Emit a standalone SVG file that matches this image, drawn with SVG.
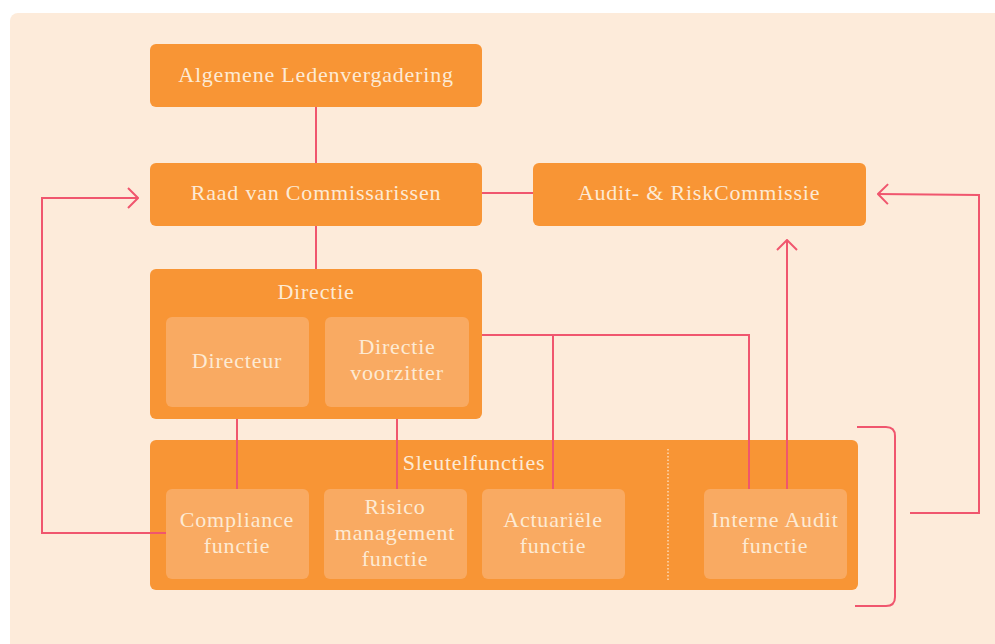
<svg xmlns="http://www.w3.org/2000/svg" width="995" height="644" viewBox="0 0 995 644">
<defs>
<style>
.box{fill:#F89535;}
.sub{fill:#F9AA62;}
.t{font-family:"Liberation Serif","DejaVu Serif",serif;font-size:22px;letter-spacing:0.8px;fill:#FDEAD4;text-anchor:middle;}
.c{fill:none;stroke:#F0566E;stroke-width:2;}
</style>
<marker id="arr" viewBox="0 0 12 22" refX="11" refY="11" markerWidth="12" markerHeight="22" markerUnits="userSpaceOnUse" orient="auto">
<path d="M1,1 L11,11 L1,21" fill="none" stroke="#F0566E" stroke-width="2"/>
</marker>
</defs>
<rect x="0" y="0" width="995" height="644" fill="#FFFFFF"/>
<rect x="10" y="13" width="1000" height="650" rx="8" fill="#FDEBDA"/>

<g id="alv">
<rect class="box" x="150" y="44" width="332" height="63" rx="6"/>
<text class="t" x="316" y="82">Algemene Ledenvergadering</text>
</g>
<g id="rvc">
<rect class="box" x="150" y="163" width="332" height="63" rx="6"/>
<text class="t" x="316" y="200">Raad van Commissarissen</text>
</g>
<g id="arc">
<rect class="box" x="533" y="163" width="333" height="63" rx="6"/>
<text class="t" x="699" y="200">Audit- &amp; RiskCommissie</text>
</g>
<g id="directie">
<rect class="box" x="150" y="269" width="332" height="150" rx="6"/>
<text class="t" x="316" y="299">Directie</text>
</g>
<g id="sleutelfuncties">
<rect class="box" x="150" y="440" width="708" height="150" rx="6"/>
<text class="t" x="474" y="470">Sleutelfuncties</text>
<line x1="668" y1="449" x2="668" y2="580" stroke="#FDD9B5" stroke-width="1.5" stroke-dasharray="1.5,2"/>
</g>

<g id="connectors">
<line class="c" x1="316" y1="107" x2="316" y2="163"/>
<line class="c" x1="316" y1="226" x2="316" y2="269"/>
<line class="c" x1="482" y1="193" x2="533" y2="193"/>
<polyline class="c" points="482,335 749,335 749,489"/>
<line class="c" x1="553" y1="335" x2="553" y2="489"/>
<line class="c" x1="237" y1="419" x2="237" y2="489"/>
<line class="c" x1="397" y1="419" x2="397" y2="489"/>
<polyline class="c" points="166,533 42,533 42,198 138,198" marker-end="url(#arr)"/>
<line class="c" x1="787" y1="489" x2="787" y2="240" marker-end="url(#arr)"/>
<path class="c" d="M857,427 L886,427 Q895,427 895,436 L895,597 Q895,606 886,606 L855,606"/>
<polyline class="c" points="910,513 979,513 979,195 878,194" marker-end="url(#arr)"/>
</g>

<g id="directeur">
<rect class="sub" x="166" y="317" width="143" height="90" rx="6"/>
<text class="t" x="237" y="368">Directeur</text>
</g>
<g id="voorzitter">
<rect class="sub" x="325" y="317" width="144" height="90" rx="6"/>
<text class="t" x="397" y="354">Directie</text>
<text class="t" x="397" y="380">voorzitter</text>
</g>
<g id="compliance">
<rect class="sub" x="166" y="489" width="143" height="90" rx="6"/>
<text class="t" x="237" y="527">Compliance</text>
<text class="t" x="237" y="553">functie</text>
</g>
<g id="risico">
<rect class="sub" x="324" y="489" width="143" height="90" rx="6"/>
<text class="t" x="395" y="514">Risico</text>
<text class="t" x="395" y="540">management</text>
<text class="t" x="395" y="566">functie</text>
</g>
<g id="actuariele">
<rect class="sub" x="482" y="489" width="143" height="90" rx="6"/>
<text class="t" x="553" y="527">Actuariële</text>
<text class="t" x="553" y="553">functie</text>
</g>
<g id="interne-audit">
<rect class="sub" x="704" y="489" width="143" height="90" rx="6"/>
<text class="t" x="775" y="527">Interne Audit</text>
<text class="t" x="775" y="553">functie</text>
</g>
</svg>
